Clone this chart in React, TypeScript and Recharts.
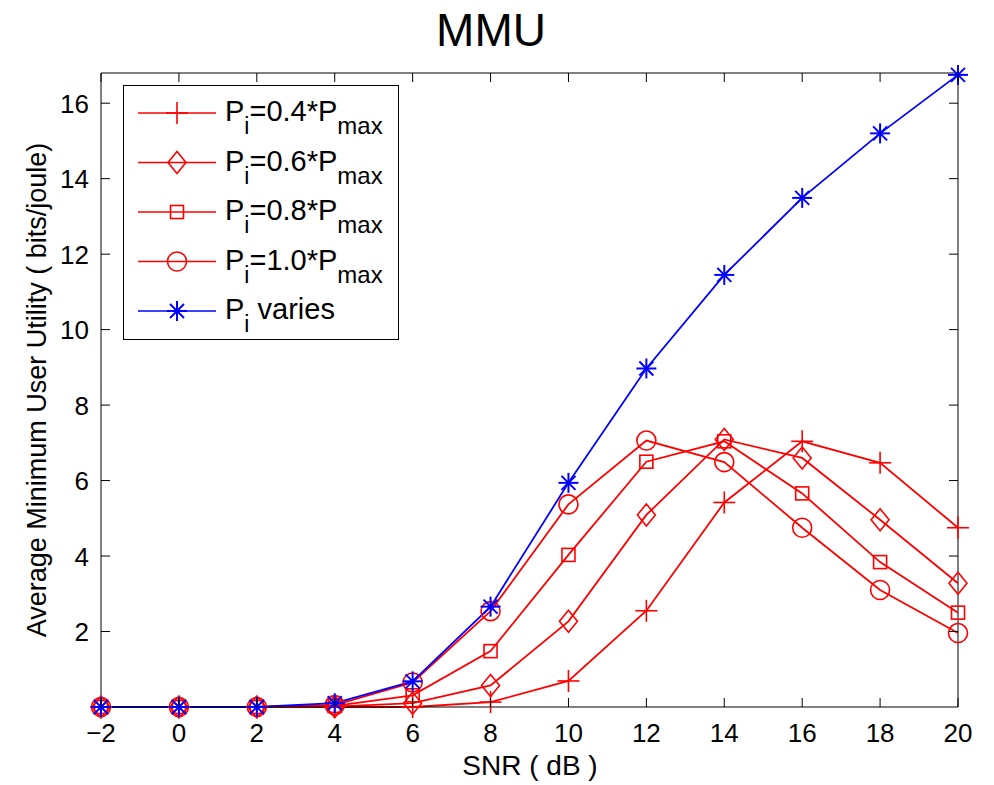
import React from "react";
import { LineChart, Line, XAxis, YAxis, Legend, ReferenceLine } from "recharts";

// SNR (dB) on the x axis
const snr = [-2, 0, 2, 4, 6, 8, 10, 12, 14, 16, 18, 20];

// average minimum user utility (bits/joule)
const p04 = [0, 0, 0, 0, 0, 0.13, 0.69, 2.55, 5.42, 7.04, 6.47, 4.75];
const p06 = [0, 0, 0, 0.01, 0.1, 0.57, 2.27, 5.09, 7.09, 6.6, 4.96, 3.28];
const p08 = [0, 0, 0, 0.03, 0.31, 1.48, 4.03, 6.5, 7.04, 5.66, 3.84, 2.5];
const p10 = [0, 0, 0, 0.05, 0.65, 2.54, 5.37, 7.06, 6.49, 4.75, 3.1, 1.96];
const pVaries = [0, 0, 0, 0.1, 0.68, 2.66, 5.94, 8.97, 11.45, 13.49, 15.2, 16.75];

const xTicks = [-2, 0, 2, 4, 6, 8, 10, 12, 14, 16, 18, 20];
const yTicks = [2, 4, 6, 8, 10, 12, 14, 16];

const data = snr.map((s, i) => ({
  snr: s,
  p04: p04[i],
  p06: p06[i],
  p08: p08[i],
  p10: p10[i],
  pVaries: pVaries[i],
}));

const RED = "#ff0000";
const BLUE = "#0000ff";
const FONT = "'Liberation Sans', Arial, Helvetica, sans-serif";
const PLOT = { left: 101, right: 958, top: 73, bottom: 707 };
const TICK = 9;

type MarkerKind = "plus" | "diamond" | "square" | "circle" | "star";

function Marker({ kind, cx, cy, color }: { kind: MarkerKind; cx: number; cy: number; color: string }) {
  const sw = 1.6;
  if (kind === "plus") {
    return (
      <g stroke={color} strokeWidth={sw} fill="none">
        <line x1={cx - 11} x2={cx + 11} y1={cy} y2={cy} />
        <line x1={cx} x2={cx} y1={cy - 11} y2={cy + 11} />
      </g>
    );
  }
  if (kind === "diamond") {
    return (
      <polygon
        points={`${cx},${cy - 11} ${cx + 9},${cy} ${cx},${cy + 11} ${cx - 9},${cy}`}
        stroke={color}
        strokeWidth={sw}
        fill="none"
      />
    );
  }
  if (kind === "square") {
    return <rect x={cx - 6.5} y={cy - 6.5} width={13} height={13} stroke={color} strokeWidth={sw} fill="none" />;
  }
  if (kind === "circle") {
    return <circle cx={cx} cy={cy} r={9.5} stroke={color} strokeWidth={sw} fill="none" />;
  }
  const r = 10;
  const d = 7;
  return (
    <g stroke={color} strokeWidth={2} fill="none">
      <line x1={cx - r} x2={cx + r} y1={cy} y2={cy} />
      <line x1={cx} x2={cx} y1={cy - r} y2={cy + r} />
      <line x1={cx - d} x2={cx + d} y1={cy - d} y2={cy + d} />
      <line x1={cx - d} x2={cx + d} y1={cy + d} y2={cy - d} />
    </g>
  );
}

const dotFor = (kind: MarkerKind, color: string) => (props: any) => {
  const { cx, cy, index } = props;
  if (cx == null || cy == null) return <g key={`${kind}-${index}`} />;
  return (
    <g key={`${kind}-${index}`}>
      <Marker kind={kind} cx={cx} cy={cy} color={color} />
    </g>
  );
};

const fmt = (v: number) => (v < 0 ? `\u2212${Math.abs(v)}` : `${v}`);

function XTick(props: any) {
  const { x, payload } = props;
  return (
    <g>
      <line x1={x} x2={x} y1={PLOT.bottom} y2={PLOT.bottom - TICK} stroke="#000" />
      <line x1={x} x2={x} y1={PLOT.top} y2={PLOT.top + TICK} stroke="#000" />
      <text x={x} y={742} textAnchor="middle" fontSize={26} fontFamily={FONT} fill="#000">
        {fmt(payload.value)}
      </text>
    </g>
  );
}

function YTick(props: any) {
  const { y, payload } = props;
  return (
    <g>
      <line x1={PLOT.left} x2={PLOT.left + TICK} y1={y} y2={y} stroke="#000" />
      <line x1={PLOT.right} x2={PLOT.right - TICK} y1={y} y2={y} stroke="#000" />
      <text x={89} y={y + 9.5} textAnchor="end" fontSize={26} fontFamily={FONT} fill="#000">
        {payload.value}
      </text>
    </g>
  );
}

const legendRows: { kind: MarkerKind; color: string; coef?: string }[] = [
  { kind: "plus", color: RED, coef: "0.4" },
  { kind: "diamond", color: RED, coef: "0.6" },
  { kind: "square", color: RED, coef: "0.8" },
  { kind: "circle", color: RED, coef: "1.0" },
  { kind: "star", color: BLUE },
];

function LegendBox() {
  return (
    <svg width={276} height={255} style={{ display: "block" }}>
      <rect x={0.5} y={0.5} width={275} height={254} fill="#fff" stroke="#000" strokeWidth={1} />
      {legendRows.map((row, i) => {
        const y = 28 + i * 49.5;
        return (
          <g key={i}>
            <line x1={15} x2={93} y1={y} y2={y} stroke={row.color} strokeWidth={1.6} />
            <Marker kind={row.kind} cx={54} cy={y} color={row.color} />
            <text x={102} y={y + 8} fontSize={29} fontFamily={FONT} fill="#000">
              <tspan>P</tspan>
              <tspan fontSize={23} dy={13}>i</tspan>
              {row.coef ? (
                <>
                  <tspan dy={-13}>{`=${row.coef}*P`}</tspan>
                  <tspan fontSize={24} dy={13}>max</tspan>
                </>
              ) : (
                <tspan dy={-13}> varies</tspan>
              )}
            </text>
          </g>
        );
      })}
    </svg>
  );
}

export default function App() {
  return (
    <div style={{ position: "absolute", left: 0, top: 0, width: 994, height: 785, background: "#fff" }}>
      <LineChart
        width={994}
        height={785}
        data={data}
        margin={{ top: 73, right: 36, bottom: 28, left: 31 }}
        style={{ position: "absolute", left: 0, top: 0 }}
      >
        <XAxis
          dataKey="snr"
          type="number"
          domain={[-2, 20]}
          ticks={xTicks}
          interval={0}
          height={50}
          tickLine={false}
          axisLine={{ stroke: "#000", strokeWidth: 1 }}
          tick={XTick}
          label={() => (
            <text x={530} y={775} textAnchor="middle" fontSize={28} fontFamily={FONT} fill="#000">
              SNR ( dB )
            </text>
          )}
        />
        <YAxis
          type="number"
          domain={[0, 16.8]}
          ticks={yTicks}
          interval={0}
          width={70}
          tickLine={false}
          axisLine={{ stroke: "#000", strokeWidth: 1 }}
          tick={YTick}
          label={() => (
            <text
              x={46}
              y={390}
              transform="rotate(-90 46 390)"
              textAnchor="middle"
              fontSize={27}
              fontFamily={FONT}
              fill="#000"
            >
              Average Minimum User Utility ( bits/joule)
            </text>
          )}
        />
        <ReferenceLine y={16.8} stroke="#000" strokeWidth={1} ifOverflow="visible" />
        <ReferenceLine x={20} stroke="#000" strokeWidth={1} ifOverflow="visible" />
        <Line dataKey="p04" stroke={RED} strokeWidth={1.8} dot={dotFor("plus", RED)} isAnimationActive={false} />
        <Line dataKey="p06" stroke={RED} strokeWidth={1.8} dot={dotFor("diamond", RED)} isAnimationActive={false} />
        <Line dataKey="p08" stroke={RED} strokeWidth={1.8} dot={dotFor("square", RED)} isAnimationActive={false} />
        <Line dataKey="p10" stroke={RED} strokeWidth={1.8} dot={dotFor("circle", RED)} isAnimationActive={false} />
        <Line dataKey="pVaries" stroke={BLUE} strokeWidth={1.8} dot={dotFor("star", BLUE)} isAnimationActive={false} />
        <Legend
          layout="vertical"
          align="center"
          verticalAlign="middle"
          wrapperStyle={{ left: 123, top: 85, width: 276, height: 255 }}
          content={() => <LegendBox />}
        />
      </LineChart>
      <svg width={994} height={70} style={{ position: "absolute", left: 0, top: 0, pointerEvents: "none" }}>
        <text x={491} y={46} textAnchor="middle" fontSize={46} fontFamily={FONT} fill="#000">
          MMU
        </text>
      </svg>
    </div>
  );
}
